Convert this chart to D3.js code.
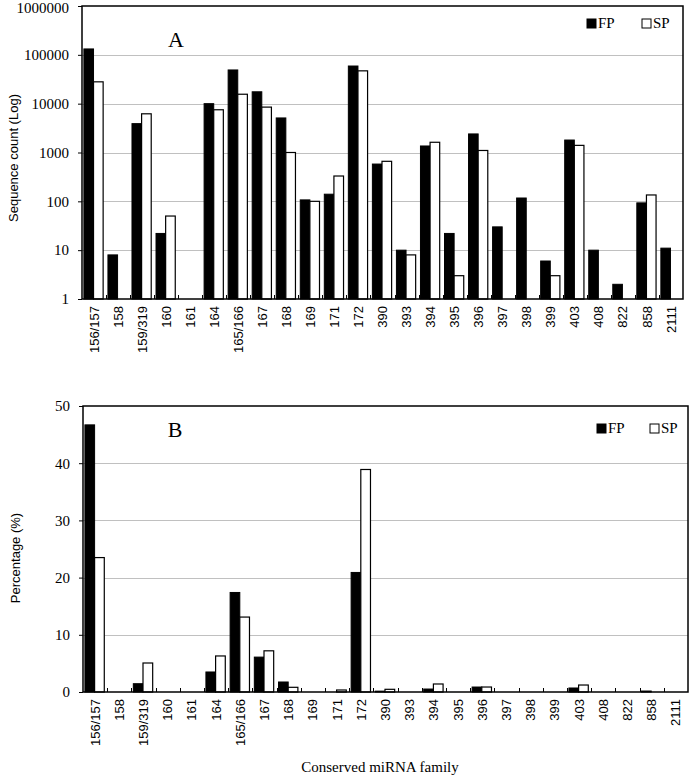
<!DOCTYPE html>
<html>
<head>
<meta charset="utf-8">
<script src="https://cdn.jsdelivr.net/npm/d3@7"></script>
<style>
  html, body { margin: 0; padding: 0; background: #fff; }
  svg { display: block; }
</style>
</head>
<body>
<script>
const categories = ["156/157","158","159/319","160","161","164","165/166","167","168","169","171","172","390","393","394","395","396","397","398","399","403","408","822","858","2111"];
const fpCount = [132000, 8, 3900, 22, 0, 10000, 49000, 17500, 5100, 107, 140, 59000, 580, 10, 1360, 22, 2400, 30, 117, 6, 1800, 10, 2, 93, 11];
const spCount = [28000, 0, 6200, 50, 0, 7500, 15600, 8500, 1000, 100, 330, 47000, 660, 8, 1620, 3, 1100, 0, 0, 3, 1400, 0, 0, 135, 0];
const fpPct = [46.7, 0, 1.45, 0, 0, 3.5, 17.4, 6.1, 1.75, 0, 0, 20.9, 0.15, 0, 0.52, 0, 0.87, 0, 0, 0, 0.7, 0, 0, 0.17, 0];
const spPct = [23.5, 0, 5.07, 0, 0, 6.3, 13.1, 7.2, 0.82, 0, 0.35, 38.9, 0.47, 0, 1.4, 0, 0.87, 0, 0, 0, 1.22, 0, 0, 0, 0];
const logTicks = [1, 10, 100, 1000, 10000, 100000, 1000000];
const pctTicks = [0, 10, 20, 30, 40, 50];
const seriesNames = ["FP", "SP"];

const W = 696, H = 777;
const svg = d3.select("body").append("svg").attr("width", W).attr("height", H);
svg.append("rect").attr("width", W).attr("height", H).attr("fill", "#fff");

const serif = "'Liberation Serif', 'Times New Roman', serif";
const sans = "'Liberation Sans', Arial, sans-serif";

function panel(cfg) {
  const g = svg.append("g");
  const x = d3.scaleBand().domain(categories).range([cfg.left, cfg.right]).padding(0);
  const y = cfg.y;
  const bw = x.bandwidth() * 0.4;

  // gridlines
  g.append("g").selectAll("line").data(cfg.grid).join("line")
    .attr("x1", cfg.left).attr("x2", cfg.right)
    .attr("y1", d => Math.round(y(d)) + 0.5).attr("y2", d => Math.round(y(d)) + 0.5)
    .attr("stroke", "#c0c0c0").attr("stroke-width", 1);

  // bars
  const data = categories.map((c, i) => ({c, fp: cfg.fp[i], sp: cfg.sp[i]}));
  const valid = v => v > 0;
  const base = y(cfg.base);
  g.append("g").selectAll("rect.fp").data(data.filter(d => valid(d.fp))).join("rect")
    .attr("x", d => x(d.c) + x.bandwidth() / 2 - bw - 0.5)
    .attr("y", d => y(d.fp))
    .attr("width", bw)
    .attr("height", d => base - y(d.fp))
    .attr("fill", "#000").attr("stroke", "#000").attr("stroke-width", 1);
  g.append("g").selectAll("rect.sp").data(data.filter(d => valid(d.sp))).join("rect")
    .attr("x", d => x(d.c) + x.bandwidth() / 2 - 0.5)
    .attr("y", d => y(d.sp))
    .attr("width", bw)
    .attr("height", d => base - y(d.sp))
    .attr("fill", "#fff").attr("stroke", "#000").attr("stroke-width", 1.2);

  // category boundary ticks
  g.append("g").selectAll("line").data(categories.slice(1)).join("line")
    .attr("x1", d => Math.round(x(d)) + 0.5).attr("x2", d => Math.round(x(d)) + 0.5)
    .attr("y1", cfg.bottom).attr("y2", cfg.bottom - 4)
    .attr("stroke", "#000").attr("stroke-width", 1);

  // frame
  g.append("rect")
    .attr("x", cfg.left).attr("y", cfg.top)
    .attr("width", cfg.right - cfg.left).attr("height", cfg.bottom - cfg.top)
    .attr("fill", "none").attr("stroke", "#000").attr("stroke-width", 1.5);

  // y axis
  const ya = g.append("g").attr("transform", `translate(${cfg.left},0)`)
    .call(d3.axisLeft(y).tickValues(cfg.ticks).tickSize(4).tickPadding(9).tickFormat(d3.format("d")));
  ya.select(".domain").remove();
  ya.selectAll("text").attr("font-family", serif).attr("font-size", 15).attr("fill", "#000");
  if (cfg.topNudge) {
    ya.selectAll(".tick").filter(d => d === cfg.ticks[cfg.ticks.length - 1])
      .select("text").attr("y", cfg.topNudge);
  }

  // x axis labels
  const xa = g.append("g").attr("transform", `translate(0,${cfg.bottom})`)
    .call(d3.axisBottom(x).tickSize(0).tickPadding(0));
  xa.select(".domain").remove();
  xa.selectAll("text")
    .attr("font-family", sans).attr("font-size", 13).attr("fill", "#000")
    .attr("transform", "rotate(-90)")
    .attr("text-anchor", "end")
    .attr("x", -cfg.labelGap).attr("y", 0).attr("dy", "0.35em");

  // y title
  g.append("text")
    .attr("transform", `translate(${cfg.titleX},${cfg.titleY}) rotate(-90)`)
    .attr("text-anchor", "middle").attr("dy", "0.35em")
    .attr("font-family", sans).attr("font-size", 13).text(cfg.yTitle);

  // panel letter
  g.append("text").attr("x", cfg.letterX).attr("y", cfg.letterY)
    .attr("text-anchor", "middle").attr("font-family", serif).attr("font-size", 22)
    .text(cfg.letter);

  // legend
  const lg = g.append("g");
  seriesNames.forEach((s, i) => {
    const lx = cfg.legX[i];
    lg.append("rect").attr("x", lx).attr("y", cfg.legY - 9).attr("width", 9).attr("height", 9)
      .attr("fill", i === 0 ? "#000" : "#fff").attr("stroke", "#000").attr("stroke-width", 1);
    lg.append("text").attr("x", lx + 11).attr("y", cfg.legY)
      .attr("font-family", serif).attr("font-size", 15).text(s);
  });
}

panel({
  left: 82, right: 683, top: 6, bottom: 299,
  y: d3.scaleLog().domain([1, 1000000]).range([299, 6]),
  base: 1,
  grid: logTicks.slice(1, -1), ticks: logTicks, topNudge: 2,
  fp: fpCount, sp: spCount,
  labelGap: 7,
  yTitle: "Sequence count (Log)", titleX: 13, titleY: 158,
  letter: "A", letterX: 176, letterY: 47,
  legX: [587, 642], legY: 28
});

panel({
  left: 83, right: 688, top: 406, bottom: 692,
  y: d3.scaleLinear().domain([0, 50]).range([692, 406]),
  base: 0,
  grid: pctTicks.slice(1, -1), ticks: pctTicks,
  fp: fpPct, sp: spPct,
  labelGap: 7,
  yTitle: "Percentage (%)", titleX: 15, titleY: 558,
  letter: "B", letterX: 175, letterY: 437,
  legX: [597, 650], legY: 433
});

svg.append("text").attr("x", 380).attr("y", 772)
  .attr("text-anchor", "middle").attr("font-family", serif).attr("font-size", 15)
  .text("Conserved miRNA family");
</script>
</body>
</html>
